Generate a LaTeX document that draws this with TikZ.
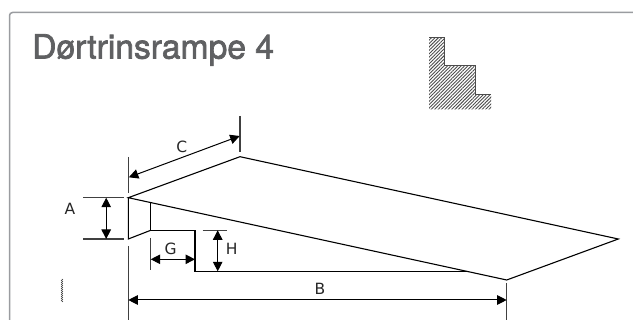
\documentclass[tikz,border=0pt]{standalone}
\usepackage{fontspec}
\setmainfont{DejaVu Sans}
\newfontfamily\titlefont[FakeBold=2]{TeX Gyre Heros}
\usetikzlibrary{arrows.meta,patterns.meta,decorations.pathmorphing}
\definecolor{cardline}{HTML}{9A9CA0}
\definecolor{titlegray}{HTML}{5F6062}
\tikzset{
 x=1pt,y=-1pt,
 part/.style={draw=black,line width=1.1pt,line join=miter},
 ext/.style={draw=black!75,line width=1.1pt},
 dimen/.style={draw=black,line width=1pt,{Triangle[length=9.5pt,width=9.5pt]}-{Triangle[length=9.5pt,width=9.5pt]}},
 lbl/.style={font=\fontsize{15.5}{17}\selectfont,inner sep=0pt,text=black!85},
}
\begin{document}
\begin{tikzpicture}
\useasboundingbox (0,0) rectangle (633,320);
\draw[cardline,line width=1.5pt,rounded corners=3pt] (9.5,340) -- (9.5,12.5) -- (640,12.5);
\node[anchor=west,inner sep=0pt,text=titlegray,font=\titlefont\fontsize{33.6}{36}\selectfont] (title) at (32,50) {Dørtrinsrampe 4};
% small profile
\fill[pattern={Lines[angle=45,distance=2.4pt,line width=0.9pt]},pattern color=black!70] (429,37.5) -- (444,37.5) -- (444,66) -- (475,66) -- (475,94.5) -- (491,94.5) -- (491,109.5) -- (429,109.5) -- cycle;
\draw[black!70,line width=1pt] (429,37.5) -- (444,37.5) -- (444,66) -- (475,66) -- (475,94.5) -- (491,94.5);
% ramp
\coordinate (tl) at (128.3,197.7);
\coordinate (ap) at (240,156.7);
\coordinate (rt) at (618.3,239);
\coordinate (bt) at (506.7,280);
\coordinate (lf) at (128.3,239);
\coordinate (s1) at (150.7,230.3);
\coordinate (s0) at (150.7,203);
\coordinate (s2) at (195,230.3);
\coordinate (s3) at (195,271.3);
\coordinate (s4) at (466,271.3);
\draw[part] (tl) -- (ap) -- (rt) -- (bt) -- cycle;
\draw[part] (tl) -- (lf) -- (s1);
\draw[part] (s0) -- (s1) -- (s2) -- (s3) -- (s4);
% extension lines
\coordinate (c1a) at (128.3,157); \coordinate (c1b) at (128.3,193);
\coordinate (c2a) at (240,116); \coordinate (c2b) at (240,152);
\draw[ext] (c1a) -- (c1b);
\draw[ext] (c2a) -- (c2b);
\coordinate (a1a) at (83,197.7); \coordinate (a1b) at (123.5,197.7);
\coordinate (a2a) at (83,239); \coordinate (a2b) at (123.5,239);
\draw[ext] (a1a) -- (a1b);
\draw[ext] (a2a) -- (a2b);
\coordinate (b1a) at (128.3,246); \coordinate (b1b) at (128.3,320);
\coordinate (b2a) at (506.7,283); \coordinate (b2b) at (506.7,320);
\draw[ext] (b1a) -- (b1b);
\draw[ext] (b2a) -- (b2b);
\coordinate (g1) at (150.7,238); \coordinate (g1b) at (150.7,270);
\draw[ext] (g1) -- (g1b);
\coordinate (h1) at (202.7,230.3); \coordinate (h1b) at (226.7,230.3);
\draw[ext] (h1) -- (h1b);
% dimensions
\coordinate (ca) at (128.8,177.3); \coordinate (cb) at (239.7,136);
\draw[dimen] (ca) -- (cb);
\coordinate (aa) at (106.2,197.7); \coordinate (ab) at (106.2,239);
\draw[dimen] (aa) -- (ab);
\coordinate (ga) at (150.7,259.3); \coordinate (gb) at (195,259.3);
\draw[dimen] (ga) -- (gb);
\coordinate (ha) at (217.7,230.3); \coordinate (hb) at (217.7,271.3);
\draw[dimen] (ha) -- (hb);
\coordinate (ba) at (128.3,300); \coordinate (bb) at (506.7,300);
\draw[dimen] (ba) -- (bb);
% labels
\node[lbl] (lc) at (181.7,147) {C};
\node[lbl] (la) at (70,209) {A};
\node[lbl] (lg) at (170.7,249) {G};
\node[lbl] (lh) at (231.7,249) {H};
\node[lbl] (lb) at (320,289) {B};
% stray
\draw[black!70,line width=0.6pt,decorate,decoration={zigzag,segment length=2pt,amplitude=0.6pt}] (62,279) -- (62,302);
\end{tikzpicture}
\end{document}
